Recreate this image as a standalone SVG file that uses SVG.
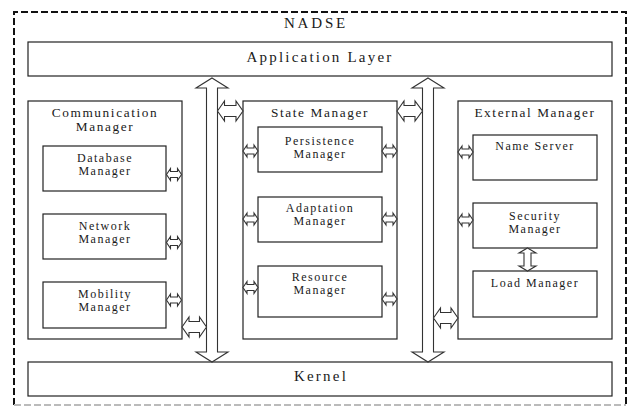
<svg xmlns="http://www.w3.org/2000/svg" xmlns:xlink="http://www.w3.org/1999/xlink" width="630" height="408" viewBox="0 0 630 408">
<style>
.box{fill:#fff;stroke:#222;stroke-width:1.2}
.arr{fill:#fff;stroke:#333;stroke-width:1.1;stroke-linejoin:miter}
.t{font-family:'Liberation Serif','Times New Roman','DejaVu Serif',serif;fill:#1a1a1a;text-anchor:middle}
.lg{font-size:15px;letter-spacing:2.2px}
.md{font-size:13.3px;letter-spacing:1.6px}
.sm{font-size:12px;letter-spacing:1.5px}
</style>
<defs>
<path id="sa" d="M0 0 L4 -6 L4 -3 L11 -3 L11 -6 L15 0 L11 6 L11 3 L4 3 L4 6 Z"/>
</defs>
<rect width="630" height="408" fill="#fff"/>
<g id="nadse">
<path d="M14 405 L14 12 L626 12 L626 405" fill="none" stroke="#111" stroke-width="2" stroke-dasharray="7 3"/>
<line x1="14" y1="405" x2="626" y2="405" stroke="#bbb" stroke-width="2" stroke-dasharray="7 3"/>
<text class="t lg" x="316" y="28" font-family="Liberation Serif, serif" style="letter-spacing:2.8px">NADSE</text>
</g>
<g id="app-layer">
<rect class="box" x="28" y="42" width="584" height="34"/>
<text class="t lg" x="320" y="62" font-family="Liberation Serif, serif">Application Layer</text>
</g>
<g id="kernel">
<rect class="box" x="28" y="362" width="584" height="34"/>
<text class="t lg" x="321" y="381" font-family="Liberation Serif, serif">Kernel</text>
</g>
<g id="comm-manager">
<rect class="box" x="28" y="101" width="154" height="238"/>
<text class="t md" x="105" y="117" font-family="Liberation Serif, serif">Communication</text>
<text class="t md" x="105" y="131" font-family="Liberation Serif, serif">Manager</text>
</g>
<g id="db-manager">
<rect class="box" x="43" y="146" width="123" height="45"/>
<text class="t sm" x="105" y="162" font-family="Liberation Serif, serif">Database</text>
<text class="t sm" x="105" y="174.5" font-family="Liberation Serif, serif">Manager</text>
</g>
<g id="net-manager">
<rect class="box" x="43" y="214" width="123" height="45"/>
<text class="t sm" x="105" y="230" font-family="Liberation Serif, serif">Network</text>
<text class="t sm" x="105" y="243" font-family="Liberation Serif, serif">Manager</text>
</g>
<g id="mob-manager">
<rect class="box" x="43" y="282" width="123" height="46"/>
<text class="t sm" x="105" y="298" font-family="Liberation Serif, serif">Mobility</text>
<text class="t sm" x="105" y="311" font-family="Liberation Serif, serif">Manager</text>
</g>
<g id="state-manager">
<rect class="box" x="243" y="101" width="154" height="238"/>
<text class="t md" x="320" y="117" font-family="Liberation Serif, serif">State Manager</text>
</g>
<g id="persist-manager">
<rect class="box" x="258" y="127" width="124" height="45"/>
<text class="t sm" x="320" y="145" font-family="Liberation Serif, serif">Persistence</text>
<text class="t sm" x="320" y="158" font-family="Liberation Serif, serif">Manager</text>
</g>
<g id="adapt-manager">
<rect class="box" x="258" y="197" width="124" height="45"/>
<text class="t sm" x="320" y="212" font-family="Liberation Serif, serif">Adaptation</text>
<text class="t sm" x="320" y="224.5" font-family="Liberation Serif, serif">Manager</text>
</g>
<g id="res-manager">
<rect class="box" x="258" y="266" width="124" height="51"/>
<text class="t sm" x="320" y="281" font-family="Liberation Serif, serif">Resource</text>
<text class="t sm" x="320" y="293.5" font-family="Liberation Serif, serif">Manager</text>
</g>
<g id="ext-manager">
<rect class="box" x="458" y="101" width="154" height="238"/>
<text class="t md" x="535" y="117" font-family="Liberation Serif, serif">External Manager</text>
</g>
<g id="name-server">
<rect class="box" x="473" y="135" width="124" height="45"/>
<text class="t sm" x="535" y="150" font-family="Liberation Serif, serif">Name Server</text>
</g>
<g id="sec-manager">
<rect class="box" x="473" y="203" width="124" height="45"/>
<text class="t sm" x="535" y="220" font-family="Liberation Serif, serif">Security</text>
<text class="t sm" x="535" y="233" font-family="Liberation Serif, serif">Manager</text>
</g>
<g id="load-manager">
<rect class="box" x="473" y="271" width="124" height="46"/>
<text class="t sm" x="535" y="287" font-family="Liberation Serif, serif">Load Manager</text>
</g>
<g id="connectors">
<path class="arr" d="M212 78 L228 88 L217.5 88 L217.5 352 L228 352 L212 362 L196 352 L206.5 352 L206.5 88 L196 88 Z"/>
<path class="arr" d="M428 78 L444 88 L433.5 88 L433.5 352 L444 352 L428 362 L412 352 L422.5 352 L422.5 88 L412 88 Z"/>
<path class="arr" d="M182 327 L189 317 L189 321.5 L199.5 321.5 L199.5 317 L206.5 327 L199.5 337 L199.5 332.5 L189 332.5 L189 337 Z"/>
<path class="arr" d="M217.5 111 L224.5 101 L224.5 105.5 L236 105.5 L236 101 L243 111 L236 121 L236 116.5 L224.5 116.5 L224.5 121 Z"/>
<path class="arr" d="M397 111 L404 101 L404 105.5 L415 105.5 L415 101 L422.5 111 L415 121 L415 116.5 L404 116.5 L404 121 Z"/>
<path class="arr" d="M433.5 318 L440.5 308 L440.5 312.5 L451 312.5 L451 308 L458 318 L451 328 L451 323.5 L440.5 323.5 L440.5 328 Z"/>
<path class="arr" d="M527.5 248 L536 253 L531 253 L531 266 L536 266 L527.5 271 L519 266 L524 266 L524 253 L519 253 Z"/>
<use class="arr" href="#sa" xlink:href="#sa" x="166.5" y="174.5"/>
<use class="arr" href="#sa" xlink:href="#sa" x="166.5" y="242.5"/>
<use class="arr" href="#sa" xlink:href="#sa" x="166.5" y="300"/>
<use class="arr" href="#sa" xlink:href="#sa" x="243" y="151"/>
<use class="arr" href="#sa" xlink:href="#sa" x="243" y="219"/>
<use class="arr" href="#sa" xlink:href="#sa" x="243" y="287.5"/>
<use class="arr" href="#sa" xlink:href="#sa" x="382" y="151"/>
<use class="arr" href="#sa" xlink:href="#sa" x="382" y="219"/>
<use class="arr" href="#sa" xlink:href="#sa" x="382" y="299"/>
<use class="arr" href="#sa" xlink:href="#sa" x="458" y="152"/>
<use class="arr" href="#sa" xlink:href="#sa" x="458" y="220"/>
</g>
</svg>
